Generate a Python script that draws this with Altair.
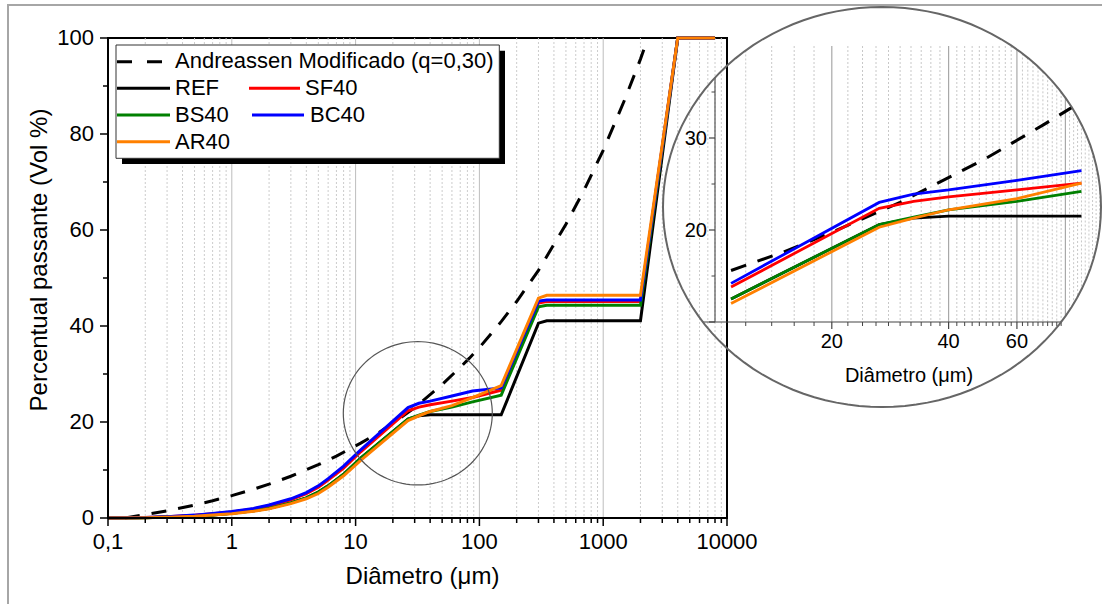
import math
import altair as alt
import pandas as pd

FONT = "Liberation Sans"

# ---------------- data ----------------
diam = [0.1, 0.2, 0.3, 0.5, 0.7, 1, 1.5, 2, 3, 4, 5, 6, 8, 11, 26.5, 32.5,
        40, 60, 88, 150, 300, 350, 2000, 4000, 8000]
ref = [0, 0.05, 0.2, 0.4, 0.65, 1.0, 1.5, 2.0, 3.15, 4.2, 5.4, 6.7, 9.1, 12.5,
       20.6, 21.3, 21.5, 21.5, 21.5, 21.5, 40.6, 41.1, 41.1, 100, 100]
sf40 = [0, 0.1, 0.25, 0.55, 0.9, 1.25, 1.9, 2.55, 3.8, 5.05, 6.4, 7.9, 10.4, 13.8,
        22.35, 23.1, 23.6, 24.35, 25.1, 26.6, 44.8, 45.1, 45.1, 100, 100]
bs40 = [0, 0.05, 0.2, 0.4, 0.65, 1.0, 1.5, 2.0, 3.15, 4.2, 5.4, 6.7, 9.1, 12.5,
        20.6, 21.4, 22.2, 23.1, 24.2, 25.6, 44.0, 44.3, 44.3, 100, 100]
bc40 = [0, 0.1, 0.25, 0.6, 0.95, 1.35, 2.0, 2.7, 4.0, 5.3, 6.7, 8.2, 10.8, 14.2,
        23.0, 23.9, 24.35, 25.4, 26.45, 27.1, 45.2, 45.4, 45.4, 100, 100]
ar40 = [0, 0.05, 0.15, 0.35, 0.6, 0.9, 1.4, 1.9, 3.0, 4.0, 5.1, 6.4, 8.8, 12.0,
        20.3, 21.3, 22.2, 23.4, 25.1, 27.6, 45.8, 46.4, 46.4, 100, 100]

andr_d = [0.137, 0.2, 0.3, 0.5, 0.7, 1, 1.5, 2, 3, 5, 7, 11, 15, 20, 30, 50, 70,
          83, 100, 150, 200, 300, 500, 700, 1000, 1500, 2000, 2300]
andr_v = [0, 0.7, 1.5, 2.7, 3.6, 4.65, 6.0, 7.05, 8.7, 11.1, 12.9, 15.6, 17.6,
          19.75, 23.0, 27.8, 31.4, 33.3, 35.5, 40.9, 45.1, 51.6, 61.2, 68.3, 76.6,
          87.3, 95.6, 100]
andr_name = "Andreassen Modificado (q=0,30)"

series_names = ["REF", "SF40", "BS40", "BC40", "AR40"]
series_vals = [ref, sf40, bs40, bc40, ar40]
series_colors = ["#000000", "#ff0000", "#008000", "#0000ff", "#ff8000"]

x_major = [0.1, 1, 10, 100, 1000, 10000]
x_labels = ["0,1", "1", "10", "100", "1000", "10000"]
x_grid_major = [1, 10, 100, 1000]
x_minor = [m * 10.0 ** e for e in range(-1, 4) for m in range(2, 10)]
y_major = [0, 20, 40, 60, 80, 100]
y_labels = ["0", "20", "40", "60", "80", "100"]
y_minor = [10, 30, 50, 70, 90]

inset_x_labels = [20, 40, 60]
inset_y_labels = [20, 30]
inset_major = [20, 40, 60, 80]
inset_minor = [d for d in range(12, 100, 2) if d % 20 != 0]
inset_y_major = [10, 20, 30]
inset_y_minor = [15, 25, 35]
inset_range = (11, 88)
inset_dash_range = (11, 83)

# ---------------- geometry (pixels, relative to plot origin) ----------------
W, H = 619, 480
IN_X = (607.0, 995.0)   # pixel x of D=10 and D=100 in the magnified view
IN_Y = (284.0, 8.0)     # pixel y of 10 % and 40 %
LENS_CX, LENS_CY, LENS_A, LENS_B = 774.0, 169.0, 219.0, 200.0


def in_px(d):
    return IN_X[0] + (IN_X[1] - IN_X[0]) * (math.log10(d) - 1)


def in_val(py):
    return 10 + (IN_Y[0] - py) * 30.0 / (IN_Y[0] - IN_Y[1])


def lens_span_y(px):
    dx = (px - LENS_CX) / LENS_A
    if abs(dx) >= 1:
        return None
    h = LENS_B * math.sqrt(1 - dx * dx)
    return LENS_CY - h, LENS_CY + h


def lens_span_x(py):
    dy = (py - LENS_CY) / LENS_B
    h = LENS_A * math.sqrt(max(0.0, 1 - dy * dy))
    return LENS_CX - h, LENS_CX + h


def inset_grid(ds):
    rows = []
    for d in ds:
        s = lens_span_y(in_px(d))
        if s is None:
            continue
        top, bot = max(s[0], IN_Y[1]), min(s[1], IN_Y[0])
        if bot > top:
            rows.append({"D": d, "vt": in_val(top), "vb": in_val(bot)})
    return pd.DataFrame(rows)


def ellipse_path(ratio, n=120):
    pts = []
    for i in range(n):
        t = 2 * math.pi * i / n
        pts.append(f"{math.cos(t):.4f},{ratio * math.sin(t):.4f}")
    return "M" + " L".join(pts) + " Z"


one = pd.DataFrame({"k": [0]})

XS_MAIN = alt.Scale(type="log", domain=[0.1, 10000], nice=False)
YS_MAIN = alt.Scale(domain=[0, 100], nice=False, zero=False)
XS_IN = alt.Scale(type="log", domain=[10, 100], range=list(IN_X), nice=False)
YS_IN = alt.Scale(domain=[10, 40], range=list(IN_Y), nice=False, zero=False)


def mx():
    return alt.X("D:Q", scale=XS_MAIN, axis=None)


def my():
    return alt.Y("v:Q", scale=YS_MAIN, axis=None)


def ix():
    return alt.X("D:Q", scale=XS_IN, axis=None)


def iy(f="v"):
    return alt.Y(f"{f}:Q", scale=YS_IN, axis=None)


# ---------------- main plot ----------------
main_layers = []
main_layers.append(
    alt.Chart(one).mark_rect(fillOpacity=0, stroke="#a6a6a6", strokeWidth=2).encode(
        x=alt.value(-100), x2=alt.value(1010), y=alt.value(-33), y2=alt.value(600)))
main_layers.append(
    alt.Chart(pd.DataFrame({"D": x_minor})).mark_rule(
        color="#cccccc", strokeWidth=1, strokeDash=[2, 2]).encode(x=mx()))
main_layers.append(
    alt.Chart(pd.DataFrame({"D": x_grid_major})).mark_rule(
        color="#bdbdbd", strokeWidth=1).encode(x=mx()))
main_layers.append(
    alt.Chart(pd.DataFrame({"D": andr_d, "v": andr_v})).mark_line(
        color="black", strokeWidth=3, strokeDash=[15, 12]).encode(x=mx(), y=my()))
for name, vals, col in zip(series_names, series_vals, series_colors):
    df = pd.DataFrame({"D": diam, "v": vals})
    main_layers.append(alt.Chart(df).mark_line(color=col, strokeWidth=3).encode(
        x=mx(), y=my()))

# axis frame lines (left / bottom)
main_layers.append(alt.Chart(one).mark_rule(color="black", strokeWidth=2).encode(
    x=alt.value(0), y=alt.value(0), y2=alt.value(H + 1)))
main_layers.append(alt.Chart(one).mark_rule(color="black", strokeWidth=2).encode(
    x=alt.value(-1), x2=alt.value(W), y=alt.value(H)))

# ticks
main_layers.append(
    alt.Chart(pd.DataFrame({"D": x_minor})).mark_rule(color="black", strokeWidth=1.5).encode(
        x=mx(), y=alt.value(H), y2=alt.value(H + 5)))
main_layers.append(
    alt.Chart(pd.DataFrame({"D": x_major})).mark_rule(color="black", strokeWidth=1.5).encode(
        x=mx(), y=alt.value(H), y2=alt.value(H + 8)))
main_layers.append(
    alt.Chart(pd.DataFrame({"v": y_minor})).mark_rule(color="black", strokeWidth=1.5).encode(
        y=my(), x=alt.value(-5), x2=alt.value(0)))
main_layers.append(
    alt.Chart(pd.DataFrame({"v": y_major})).mark_rule(color="black", strokeWidth=1.5).encode(
        y=my(), x=alt.value(-8), x2=alt.value(0)))

# tick labels
main_layers.append(
    alt.Chart(pd.DataFrame({"D": x_major, "lab": x_labels})).mark_text(
        font=FONT, fontSize=22, color="black", align="center", baseline="alphabetic").encode(
        x=mx(), y=alt.value(H + 31), text="lab:N"))
main_layers.append(
    alt.Chart(pd.DataFrame({"v": y_major, "lab": y_labels})).mark_text(
        font=FONT, fontSize=22, color="black", align="right", baseline="alphabetic",
        dy=7).encode(y=my(), x=alt.value(-14), text="lab:N"))

# small highlight circle
main_layers.append(
    alt.Chart(one).mark_point(shape=ellipse_path(0.962), size=149 ** 2, filled=False,
                              stroke="#555555", strokeWidth=1.2, opacity=1).encode(
        x=alt.value(309.8), y=alt.value(375.3)))

# legend
main_layers.append(
    alt.Chart(one).mark_rect(color="black").encode(
        x=alt.value(14), x2=alt.value(397), y=alt.value(12.7), y2=alt.value(126)))
main_layers.append(
    alt.Chart(one).mark_rect(fill="white", stroke="#333333", strokeWidth=1).encode(
        x=alt.value(8), x2=alt.value(391.3), y=alt.value(7), y2=alt.value(120.3)))
row_line = [23.7, 50.3, 77, 103.7]
row_text = [29.6, 57, 84, 111]
leg = [
    (andr_name, "black", True, 9, 54, 67, 0),
    (series_names[0], series_colors[0], False, 9, 62, 67, 1),
    (series_names[1], series_colors[1], False, 141, 192, 197, 1),
    (series_names[2], series_colors[2], False, 9, 62, 67, 2),
    (series_names[3], series_colors[3], False, 144, 196, 202, 2),
    (series_names[4], series_colors[4], False, 9, 62, 67, 3),
]
for label, col, dashed, x0, x1, tx, r in leg:
    kw = dict(color=col, strokeWidth=3)
    if dashed:
        kw["strokeDash"] = [15, 15]
    main_layers.append(alt.Chart(one).mark_rule(**kw).encode(
        x=alt.value(x0), x2=alt.value(x1), y=alt.value(row_line[r])))
    main_layers.append(alt.Chart(one).mark_text(
        text=label, font=FONT, fontSize=22, color="black", align="left",
        baseline="alphabetic").encode(x=alt.value(tx), y=alt.value(row_text[r])))

# axis titles
main_layers.append(alt.Chart(one).mark_text(
    text="Diâmetro (μm)", font=FONT, fontSize=24, color="black", align="center",
    baseline="alphabetic").encode(x=alt.value(314.5), y=alt.value(546)))
main_layers.append(alt.Chart(one).mark_text(
    text="Percentual passante (Vol %)", font=FONT, fontSize=24, color="black",
    align="center", baseline="alphabetic", angle=270).encode(
    x=alt.value(-61), y=alt.value(222)))

main = alt.layer(*main_layers)

# ---------------- magnified view ----------------
in_layers = []
g_minor = inset_grid(inset_minor)
g_major = inset_grid(inset_major)
in_layers.append(alt.Chart(g_minor).mark_rule(
    color="#c8c8c8", strokeWidth=1, strokeDash=[2, 2]).encode(
    x=ix(), y=iy("vt"), y2=alt.Y2("vb:Q")))
in_layers.append(alt.Chart(g_major).mark_rule(
    color="#a8a8a8", strokeWidth=1.2).encode(
    x=ix(), y=iy("vt"), y2=alt.Y2("vb:Q")))

# axis lines
xl, xr = lens_span_x(IN_Y[0])
in_layers.append(alt.Chart(one).mark_rule(color="#444444", strokeWidth=1.2).encode(
    x=alt.value(xl), x2=alt.value(xr), y=alt.value(IN_Y[0])))
ytop = lens_span_y(IN_X[0])[0]
in_layers.append(alt.Chart(one).mark_rule(color="#555555", strokeWidth=1.2).encode(
    x=alt.value(IN_X[0]), y=alt.value(ytop), y2=alt.value(IN_Y[0])))

# ticks of the magnified axes
tick_major = pd.DataFrame({"D": [d for d in inset_major if xl < in_px(d) < xr]})
tick_minor = pd.DataFrame({"D": [d for d in inset_minor if xl < in_px(d) < xr]})
in_layers.append(alt.Chart(tick_major).mark_rule(color="#444444", strokeWidth=1.2).encode(
    x=ix(), y=alt.value(IN_Y[0]), y2=alt.value(IN_Y[0] + 7)))
in_layers.append(alt.Chart(tick_minor).mark_rule(color="#444444", strokeWidth=1).encode(
    x=ix(), y=alt.value(IN_Y[0]), y2=alt.value(IN_Y[0] + 4)))
in_layers.append(alt.Chart(pd.DataFrame({"v": inset_y_major})).mark_rule(
    color="#444444", strokeWidth=1.2).encode(
    y=iy(), x=alt.value(IN_X[0] - 6), x2=alt.value(IN_X[0])))
in_layers.append(alt.Chart(pd.DataFrame({"v": inset_y_minor})).mark_rule(
    color="#444444", strokeWidth=1).encode(
    y=iy(), x=alt.value(IN_X[0] - 3.5), x2=alt.value(IN_X[0])))

# magnified curves
dash_df = pd.DataFrame({"D": andr_d, "v": andr_v})
dash_df = dash_df[(dash_df.D >= inset_dash_range[0]) & (dash_df.D <= inset_dash_range[1])]
in_layers.append(alt.Chart(dash_df).mark_line(
    color="black", strokeWidth=3, strokeDash=[16, 12]).encode(x=ix(), y=iy()))
for name, vals, col in zip(series_names, series_vals, series_colors):
    df = pd.DataFrame({"D": diam, "v": vals})
    df = df[(df.D >= inset_range[0]) & (df.D <= inset_range[1])]
    in_layers.append(alt.Chart(df).mark_line(color=col, strokeWidth=2.8).encode(
        x=ix(), y=iy()))

# labels of the magnified view
in_layers.append(alt.Chart(pd.DataFrame({"D": inset_x_labels,
                                         "lab": [str(v) for v in inset_x_labels]})).mark_text(
    font=FONT, fontSize=20, color="black", align="center", baseline="alphabetic").encode(
    x=ix(), y=alt.value(IN_Y[0] + 25.7), text="lab:N"))
in_layers.append(alt.Chart(pd.DataFrame({"v": inset_y_labels,
                                         "lab": [str(v) for v in inset_y_labels]})).mark_text(
    font=FONT, fontSize=20, color="black", align="right", baseline="alphabetic",
    dy=7).encode(y=iy(), x=alt.value(IN_X[0] - 8), text="lab:N"))
in_layers.append(alt.Chart(one).mark_text(
    text="Diâmetro (μm)", font=FONT, fontSize=20, color="black", align="center",
    baseline="alphabetic").encode(x=alt.value(801), y=alt.value(343.5)))

# lens outline
in_layers.append(alt.Chart(one).mark_point(
    shape=ellipse_path(LENS_B / LENS_A), size=(2 * LENS_A) ** 2, filled=False,
    stroke="#666666", strokeWidth=2, opacity=1).encode(
    x=alt.value(LENS_CX), y=alt.value(LENS_CY)))

inset = alt.layer(*in_layers)

chart = alt.layer(main, inset).resolve_scale(
    x="independent", y="independent"
).properties(
    width=W, height=H,
    autosize=alt.AutoSizeParams(type="none"),
    padding={"left": 108, "top": 38, "right": 375, "bottom": 86},
).configure_view(stroke="black", strokeWidth=2)

chart.save("out.html", embed_options={"renderer": "svg", "actions": False})
